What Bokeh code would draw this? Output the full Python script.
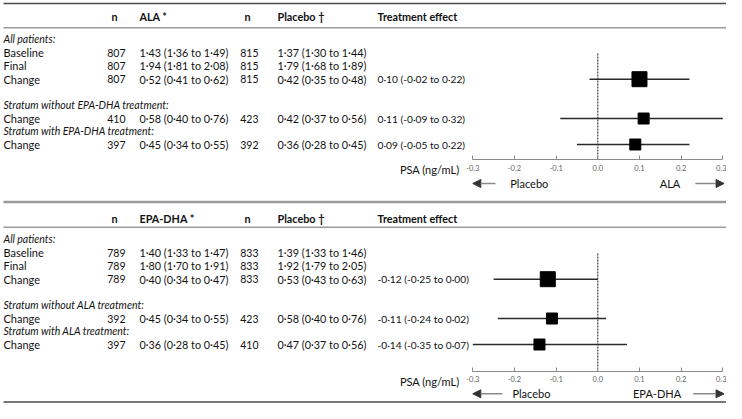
import numpy as np
from bokeh.plotting import figure
from bokeh.models import (Range1d, LinearAxis, FixedTicker, PrintfTickFormatter,
                          ColumnDataSource, Arrow, NormalHead)
from bokeh.core.properties import value
from bokeh.embed import file_html
from bokeh.resources import INLINE

# ---------------- data ----------------
treatments = ["ALA", "EPA-DHA"]
row_labels_ala = ["All patients:", "Baseline", "Final", "Change",
                  "Stratum without EPA-DHA treatment:", "Change",
                  "Stratum with EPA-DHA treatment:", "Change"]
row_labels_epa = ["All patients:", "Baseline", "Final", "Change",
                  "Stratum without ALA treatment:", "Change",
                  "Stratum with ALA treatment:", "Change"]

# ALA panel
ala_n = [807, 807, 807, 410, 397]
ala_mean = [1.43, 1.94, 0.52, 0.58, 0.45]
ala_lo = [1.36, 1.81, 0.41, 0.40, 0.34]
ala_hi = [1.49, 2.08, 0.62, 0.76, 0.55]
pbo1_n = [815, 815, 815, 423, 392]
pbo1_mean = [1.37, 1.79, 0.42, 0.42, 0.36]
pbo1_lo = [1.30, 1.68, 0.35, 0.37, 0.28]
pbo1_hi = [1.44, 1.89, 0.48, 0.56, 0.45]
ala_eff = [0.10, 0.11, 0.09]
ala_eff_lo = [-0.02, -0.09, -0.05]
ala_eff_hi = [0.22, 0.32, 0.22]

# EPA-DHA panel
epa_n = [789, 789, 789, 392, 397]
epa_mean = [1.40, 1.80, 0.40, 0.45, 0.36]
epa_lo = [1.33, 1.70, 0.34, 0.34, 0.28]
epa_hi = [1.47, 1.91, 0.47, 0.55, 0.45]
pbo2_n = [833, 833, 833, 423, 410]
pbo2_mean = [1.39, 1.92, 0.53, 0.58, 0.47]
pbo2_lo = [1.33, 1.79, 0.43, 0.40, 0.37]
pbo2_hi = [1.46, 2.05, 0.63, 0.76, 0.56]
epa_eff = [-0.12, -0.11, -0.14]
epa_eff_lo = [-0.25, -0.24, -0.35]
epa_eff_hi = [0.00, 0.02, 0.07]

tick_vals = [-0.3, -0.2, -0.1, 0.0, 0.1, 0.2, 0.3]
axis_title = "PSA (ng/mL)"

# ---------------- layout ----------------
FONT = value("Lato")
FS = "11px"
TXT = "#111111"

W, H = 726, 403
ZERO_X, PX_PER_UNIT = 597.3, 416.7
p = figure(width=W, height=H, output_backend="svg", toolbar_location=None,
           x_range=Range1d(0, W), y_range=Range1d(H, 0),
           x_axis_type=None, y_axis_type=None, min_border=0)
p.extra_x_ranges = {"eff": Range1d((0 - ZERO_X) / PX_PER_UNIT, (W - ZERO_X) / PX_PER_UNIT)}
p.outline_line_color = None
p.grid.visible = False
p.background_fill_color = "white"


def fmt(m, l, h):
    return f"{m:.2f} ({l:.2f} to {h:.2f})".replace(".", "\u00b7")


def add_text(xs, ys, texts, align="left", style="normal", size=FS, color=TXT, rng="default"):
    src = ColumnDataSource(dict(x=list(xs), y=list(ys), t=list(texts)))
    kw = {}
    if rng != "default":
        kw["x_range_name"] = rng
    p.text(x="x", y="y", text="t", source=src, text_font=FONT, text_font_size=size,
           text_align=align, text_baseline="middle", text_color=color,
           text_font_style=style, **kw)


def hrule(y, color, width):
    p.segment(x0=[3], y0=[y], x1=[745], y1=[y], line_color=color, line_width=width)


base_rows = np.array([38.7, 52.3, 65.3, 78.7, 104.7, 118.0, 130.3, 144.0])
data_idx = [1, 2, 3, 5, 7]
ital_idx = [0, 4, 6]
forest_idx = [3, 5, 7]


def panel(off, header_y, ul_y, axis_y, arrow_y, zero_top, trt, labels,
          n_t, m_t, l_t, h_t, n_p, m_p, l_p, h_p, eff, eff_lo, eff_hi, arrows):
    rows = base_rows + off
    # header
    hy = [header_y] * 5
    add_text([111, 139, 244, 277, 377], hy,
             ["n", trt + " *", "n", "Placebo \u2020", "Treatment effect"], style="bold", size="10.8px")
    hrule(ul_y, "#9a9a9a", 1.5)
    # row labels
    add_text([3] * len(ital_idx), rows[ital_idx], [labels[i] for i in ital_idx],
             style="italic", size="10.5px")
    nonit = [i for i in range(len(labels)) if i not in ital_idx]
    add_text([3] * len(nonit), rows[nonit], [labels[i] for i in nonit])
    dy = rows[data_idx]
    add_text([125] * 5, dy, [str(v) for v in n_t], align="right", size="10.5px")
    add_text([139] * 5, dy, [fmt(a, b, c) for a, b, c in zip(m_t, l_t, h_t)], size="10.8px")
    add_text([258] * 5, dy, [str(v) for v in n_p], align="right", size="10.5px")
    add_text([277] * 5, dy, [fmt(a, b, c) for a, b, c in zip(m_p, l_p, h_p)], size="10.8px")
    fy = rows[forest_idx]
    add_text([377] * 3, fy, [fmt(a, b, c) for a, b, c in zip(eff, eff_lo, eff_hi)], size="10.2px")
    # forest
    p.segment(x0=[0], y0=[zero_top], x1=[0], y1=[axis_y], x_range_name="eff",
              line_color="#222222", line_width=1, line_dash="2 1")
    lo = np.clip(eff_lo, tick_vals[0], tick_vals[-1])
    hi = np.clip(eff_hi, tick_vals[0], tick_vals[-1])
    p.segment(x0=lo, y0=fy, x1=hi, y1=fy, x_range_name="eff", line_color="#2a2a2a", line_width=1.4)
    p.scatter(x=eff, y=fy, x_range_name="eff", marker="square", size=[15, 11, 11],
              fill_color="black", line_color="black")
    ax = LinearAxis(x_range_name="eff", fixed_location=axis_y, bounds=(tick_vals[0], tick_vals[-1]),
                    ticker=FixedTicker(ticks=tick_vals, minor_ticks=[]),
                    formatter=PrintfTickFormatter(format="%.1f"),
                    major_tick_in=4, major_tick_out=0, minor_tick_in=0, minor_tick_out=0,
                    axis_line_color="#8a8a8a", axis_line_width=1, major_tick_line_color="#8a8a8a",
                    major_label_text_font="Lato",
                    major_label_text_font_size="7.5px", major_label_text_color="#666666",
                    major_label_standoff=5)
    p.add_layout(ax, "below")
    add_text([459], [axis_y + 10], [axis_title], align="right")
    # direction arrows
    (la0, lt, rt, ra0) = arrows
    head = dict(size=8, fill_color="#333333", line_color="#333333")
    p.add_layout(Arrow(end=NormalHead(**head), x_start=la0, y_start=arrow_y, x_end=-0.3, y_end=arrow_y,
                       x_range_name="eff", line_color="#8a8a8a", line_width=1.5))
    p.add_layout(Arrow(end=NormalHead(**head), x_start=ra0, y_start=arrow_y, x_end=0.303, y_end=arrow_y,
                       x_range_name="eff", line_color="#8a8a8a", line_width=1.5))
    add_text([lt], [arrow_y], ["Placebo"], rng="eff")
    add_text([rt], [arrow_y], [trt], align="right", rng="eff")


hrule(3, "#4a4a4a", 1.5)
panel(0, 16, 27.3, 159.3, 183, 53, treatments[0], row_labels_ala,
      ala_n, ala_mean, ala_lo, ala_hi, pbo1_n, pbo1_mean, pbo1_lo, pbo1_hi,
      ala_eff, ala_eff_lo, ala_eff_hi, (-0.2455, -0.21, 0.198, 0.234))
hrule(201.5, "#9a9a9a", 2.5)
panel(200, 218, 226.7, 370.7, 393.3, 253, treatments[1], row_labels_epa,
      epa_n, epa_mean, epa_lo, epa_hi, pbo2_n, pbo2_mean, pbo2_lo, pbo2_hi,
      epa_eff, epa_eff_lo, epa_eff_hi, (-0.229, -0.205, 0.20, 0.229))
hrule(401.5, "#4a4a4a", 1.5)

open("out.html", "w").write(file_html(p, INLINE))
